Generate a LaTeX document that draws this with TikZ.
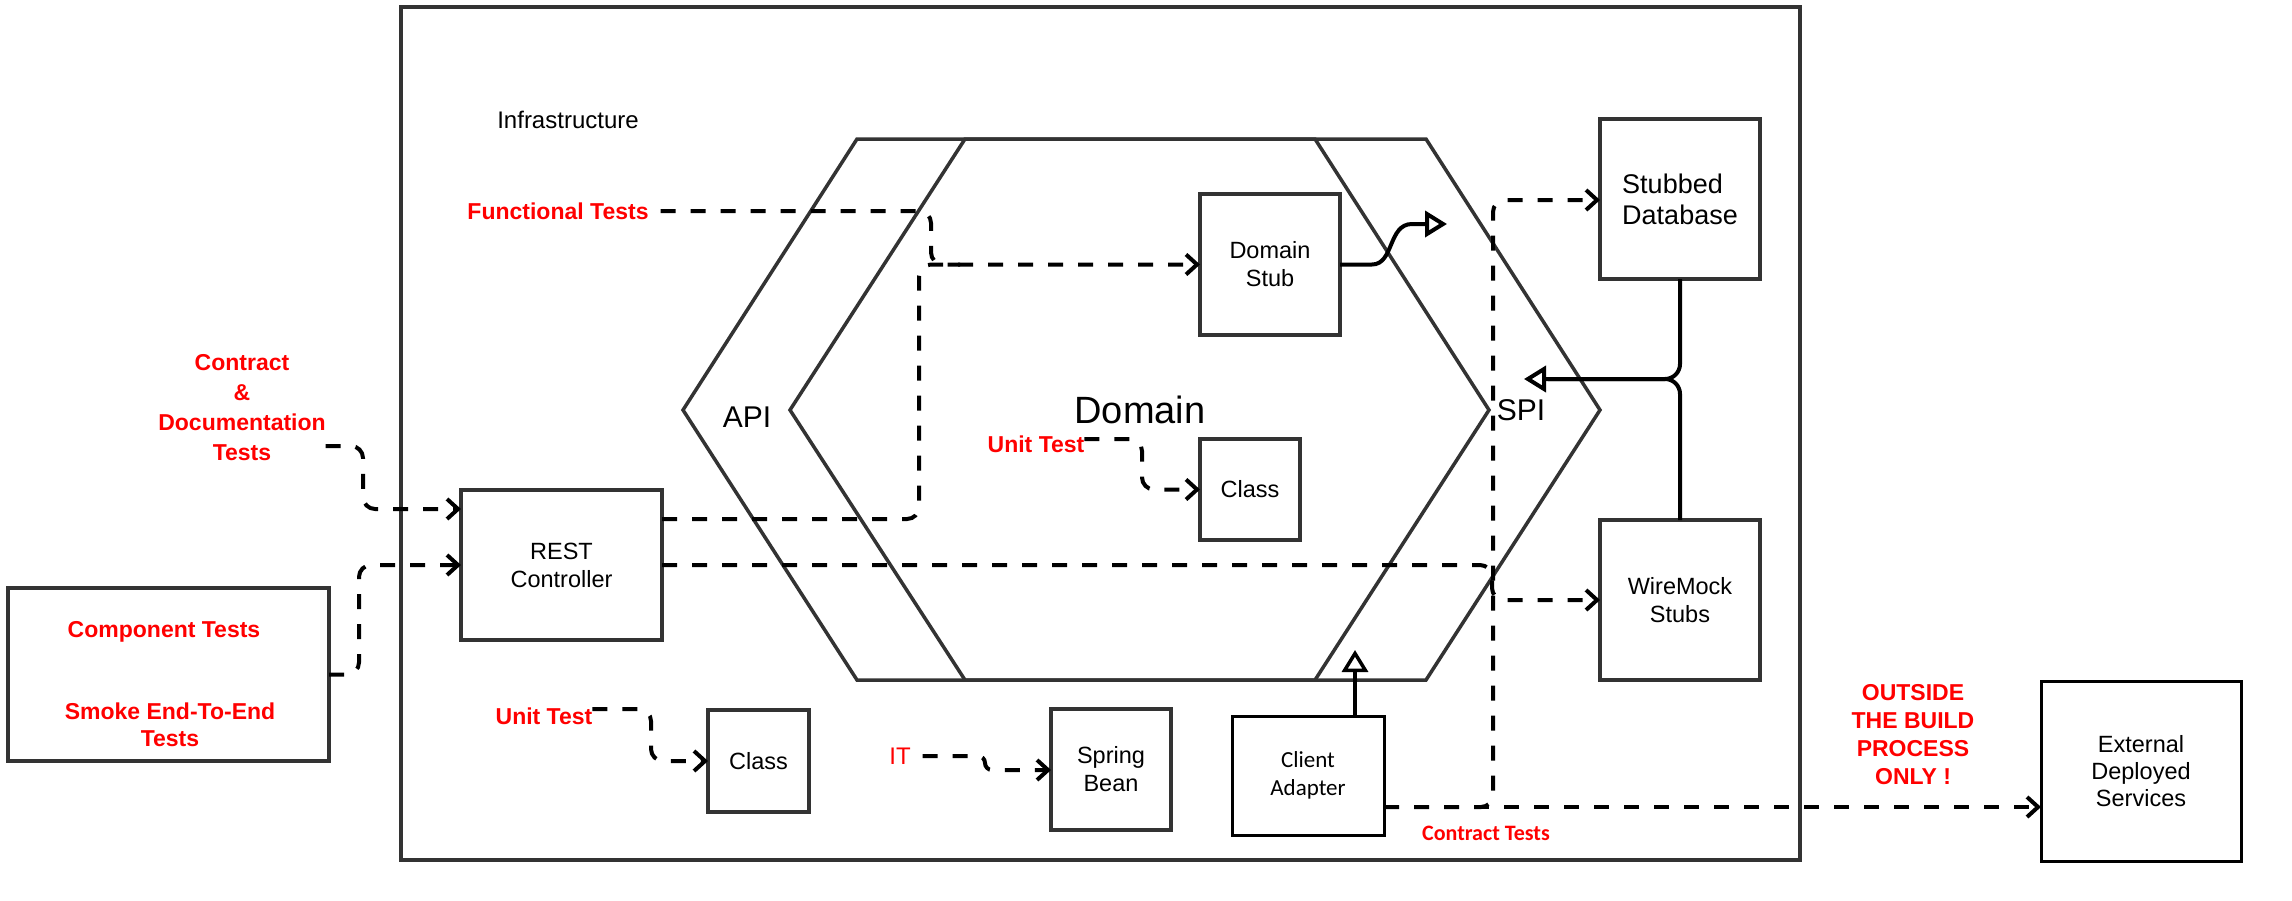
\documentclass[tikz,border=0pt]{standalone}
\usepackage{fontspec}
\setmainfont{Liberation Sans}
\newfontfamily\calibri{Carlito}
\usetikzlibrary{arrows.meta}
\definecolor{dg}{HTML}{333333}
\definecolor{rd}{HTML}{FF0000}
\begin{document}
\begin{tikzpicture}[x=1pt,y=-1pt,
  every node/.style={inner sep=0pt, outer sep=0pt},
  box/.style={draw=dg, line width=3.5pt, fill=white},
  bbox/.style={draw=black, line width=3pt, fill=white},
  txt/.style={font=\fontsize{23.5}{28}\selectfont, align=center, text=black},
  rtxt/.style={font=\bfseries\fontsize{23}{28}\selectfont, align=center, text=rd},
  dsh/.style={draw=black, line width=4pt, dash pattern=on 15pt off 15pt, rounded corners=12pt},
  barb/.style={-{Straight Barb[length=11pt,width=20pt]}},
  tri/.style={-{Triangle[open,fill=white,length=22pt,width=26pt]}},
  solid3/.style={draw=black, line width=4pt}
]
\useasboundingbox (0,0) rectangle (2292,900);
\fill[white] (0,0) rectangle (2292,900);

% infrastructure frame
\node[draw=dg, line width=3.5pt, minimum width=1399pt, minimum height=853pt] (infra) at (1100.5,433.5) {};
\node[txt, font=\fontsize{24}{28}\selectfont] (infralbl) at (568,120) {Infrastructure};

% hexagons
\draw[dg, line width=3.5pt] (857,139) -- (1426,139) -- (1600,410) -- (1426,680) -- (857,680) -- (683,410) -- cycle;
\draw[dg, line width=3.5pt] (965,139) -- (1315,139) -- (1489,410) -- (1315,680) -- (965,680) -- (790,410) -- cycle;
\node[txt, font=\fontsize{30}{34}\selectfont] (api) at (747,417) {API};
\node[txt, font=\fontsize{30}{34}\selectfont] (spi) at (1521,410) {SPI};
\node[txt, font=\fontsize{38}{42}\selectfont] (domain) at (1140,410) {Domain};

% boxes
\node[box, minimum width=321pt, minimum height=173pt] (comp) at (168.5,674.5) {};
\node[box, txt, minimum width=201pt, minimum height=150pt] (rest) at (561.5,565) {REST\\Controller};
\node[box, txt, minimum width=140pt, minimum height=141pt] (stub) at (1270,264.5) {Domain\\Stub};
\node[box, txt, minimum width=100pt, minimum height=101pt] (cls1) at (1250,489.5) {Class};
\node[box, txt, minimum width=101pt, minimum height=102pt] (cls2) at (758.5,761) {Class};
\node[box, txt, minimum width=120pt, minimum height=121pt] (bean) at (1111,769.5) {Spring\\Bean};
\node[bbox, txt, font=\calibri\fontsize{23}{28}\selectfont, minimum width=152pt, minimum height=119pt] (client) at (1308,775.5) {Client\\Adapter};
\node[box, txt, font=\fontsize{27}{31}\selectfont, align=left, minimum width=160pt, minimum height=160pt] (db) at (1680,199) {Stubbed\\Database};
\node[box, txt, minimum width=160pt, minimum height=160pt] (wm) at (1680,600) {WireMock\\Stubs};
\node[bbox, txt, font=\fontsize{23.5}{27}\selectfont, minimum width=200pt, minimum height=180pt] (ext) at (2141,771) {External\\Deployed\\Services};

% red labels
\node[rtxt] (comptl) at (164,632) {Component Tests};
\node[rtxt, font=\bfseries\fontsize{23}{27}\selectfont] (smoke) at (170,725) {Smoke End-To-End\\Tests};
\node[rtxt, font=\bfseries\fontsize{23}{30}\selectfont] (ctr) at (242,408) {Contract\\\&\\Documentation\\Tests};
\node[rtxt] (ft) at (558,211) {Functional Tests};
\node[rtxt] (ut1) at (1036,444) {Unit Test};
\node[rtxt] (ut2) at (544,716) {Unit Test};
\node[rtxt, font=\fontsize{24}{28}\selectfont] (it) at (900,756) {IT};
\node[rtxt, font=\calibri\bfseries\fontsize{22}{26}\selectfont] (ctl) at (1486,833) {Contract Tests};
\node[rtxt, font=\bfseries\fontsize{23}{28}\selectfont] (outside) at (1913,735) {OUTSIDE\\THE BUILD\\PROCESS\\ONLY !};

% free ends
\coordinate (spiport) at (1447,224);
\coordinate (spiin) at (1524,379);
\coordinate (clientport) at (1355,650);

% dashed connectors
\draw[dsh, barb] (ctr.east |- 0,446) -- (363,446) -- (363,509) -- (rest.west |- 0,509);
\draw[dsh, barb] (comp.east) -- (359,674.5) -- (359,565) -- (rest.west |- 0,565);
\draw[dsh] ([xshift=12pt]ft.east) -- (931,211) -- (931,264.5) -- (960,264.5);
\draw[dsh, barb] (rest.east |- 0,519) -- (919,519) -- (919,264.5) -- (stub.west);
\draw[dsh, barb] (ut1.east |- 0,439) -- (1142,439) -- (1142,489.5) -- (cls1.west);
\draw[dsh, barb] (ut2.east |- 0,709) -- (651,709) -- (651,761) -- (cls2.west);
\draw[dsh, barb, rounded corners=7pt] ([xshift=12pt]it.east) -- (985,756) -- (985,770) -- (bean.west |- 0,770);
\draw[dsh, barb] (rest.east |- 0,565) -- (1492,565) -- (1492,600) -- (wm.west);
\draw[dsh, barb] (client.east |- 0,807) -- (1493,807) -- (1493,200) -- (db.west |- 0,200);
\draw[dsh, barb] (client.east |- 0,807) -- (ext.west |- 0,807);

% solid connectors
\draw[solid3, tri] (stub.east) -- (1372,264.5) .. controls (1394,264.5) and (1388,224) .. (1412,224) -- (spiport);
\draw[solid3, rounded corners=15pt] (wm.north) -- (1680,379) -- (1548,379);
\draw[solid3, rounded corners=15pt, tri] (db.south) -- (1680,379) -- (spiin);
\draw[draw=black, line width=3.5pt, tri] (client.north -| clientport) -- (clientport);
\end{tikzpicture}
\end{document}
